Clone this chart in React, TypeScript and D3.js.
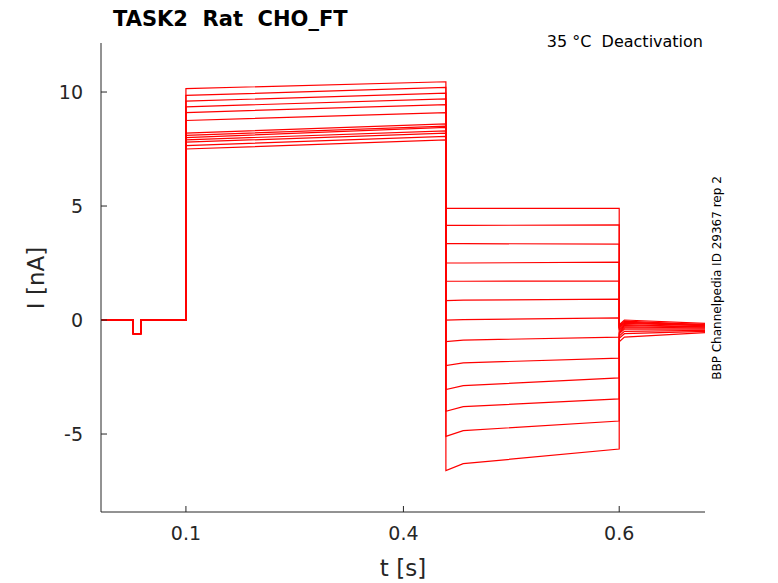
import React from "react";
import * as d3 from "d3";

// time breakpoints of the protocol (s)
const tStart = 0.002;
const tDipA = 0.039;
const tDipB = 0.048;
const tStep1 = 0.1;
const tStep2 = 0.4;
const tStep3 = 0.6;
const tEnd = 0.699;

// current levels per sweep (nA): start, early and end of each segment
const act0 = [10.15, 9.85, 9.6, 9.35, 9.1, 8.75, 8.2, 8.1, 8.0, 7.9, 7.8, 7.65, 7.5];
const act1 = [10.45, 10.2, 9.95, 9.7, 9.45, 9.1, 8.6, 8.5, 8.45, 8.3, 8.2, 8.05, 7.9];
const deact0 = [4.9, 4.15, 3.35, 2.5, 1.7, 0.85, 0.0, -0.95, -2.0, -3.05, -4.0, -5.1, -6.6];
const deactMid = [4.9, 4.15, 3.35, 2.5, 1.7, 0.87, 0.02, -0.88, -1.88, -2.88, -3.8, -4.85, -6.3];
const deact1 = [4.9, 4.17, 3.33, 2.54, 1.71, 0.92, 0.09, -0.75, -1.67, -2.54, -3.46, -4.43, -5.66];
const tail0 = [-0.2, -0.25, -0.3, -0.3, -0.35, -0.4, -0.45, -0.5, -0.55, -0.6, -0.7, -0.8, -0.95];
const tail1 = [-0.15, -0.2, -0.2, -0.25, -0.25, -0.3, -0.3, -0.35, -0.35, -0.4, -0.45, -0.5, -0.55];
const dipLevel = -0.6;

const xTickValues = [0.1, 0.351, 0.6];
const xTickLabels = ["0.1", "0.4", "0.6"];
const yTicks = [-5, 0, 5, 10];

const left = 101, right = 705, top = 43, bottom = 512;

export default function App() {
  const x = d3.scaleLinear().domain([tStart, tEnd]).range([left, right]);
  const y = d3.scaleLinear().domain([-8.42, 12.15]).range([bottom, top]);
  const line = d3.line<[number, number]>().x((d) => x(d[0])).y((d) => y(d[1]));

  const sweeps = act0.map((_, i) => {
    const pts: [number, number][] = [
      [tStart, 0], [tDipA, 0], [tDipA, dipLevel], [tDipB, dipLevel], [tDipB, 0], [tStep1, 0],
      [tStep1, act0[i]], [tStep2, act1[i]],
      [tStep2, deact0[i]], [tStep2 + 0.02, deactMid[i]], [tStep3, deact1[i]],
      [tStep3, tail0[i]], [tStep3 + 0.006, tail0[i] + 0.2], [tEnd, tail1[i]],
    ];
    return line(pts) as string;
  });

  const font = "DejaVu Sans, sans-serif";
  return (
    <svg width={778} height={583} style={{ position: "absolute", left: 0, top: 0 }} fontFamily={font}>
      <rect width={778} height={583} fill="white" />
      <text x={113} y={26} fontSize={21} fontWeight="bold" style={{ whiteSpace: "pre" }}>TASK2  Rat  CHO_FT</text>
      <text x={703} y={47} fontSize={16} textAnchor="end" style={{ whiteSpace: "pre" }}>35 °C  Deactivation</text>
      <g>
        {sweeps.map((d, i) => (
          <path key={i} d={d} fill="none" stroke="#ff0000" strokeWidth={1.2} />
        ))}
      </g>
      <line x1={left} x2={left} y1={top} y2={bottom} stroke="#262626" />
      <line x1={left} x2={right} y1={bottom} y2={bottom} stroke="#262626" />
      {yTicks.map((t) => (
        <g key={t}>
          <line x1={left} x2={left + 6} y1={y(t)} y2={y(t)} stroke="#262626" />
          <text x={left - 18} y={y(t) + 7} fontSize={19} textAnchor="end" fill="#262626">{t}</text>
        </g>
      ))}
      {xTickValues.map((t, i) => (
        <g key={t}>
          <line x1={x(t)} x2={x(t)} y1={bottom} y2={bottom - 6} stroke="#262626" />
          <text x={x(t)} y={bottom + 28} fontSize={19} textAnchor="middle" fill="#262626">{xTickLabels[i]}</text>
        </g>
      ))}
      <text x={403} y={576} fontSize={23} textAnchor="middle" fill="#262626">t [s]</text>
      <text transform="translate(44,278) rotate(-90)" fontSize={23} textAnchor="middle" fill="#262626">I [nA]</text>
      <text transform="translate(721,278) rotate(-90)" fontSize={12} textAnchor="middle">BBP Channelpedia ID 29367 rep 2</text>
    </svg>
  );
}
